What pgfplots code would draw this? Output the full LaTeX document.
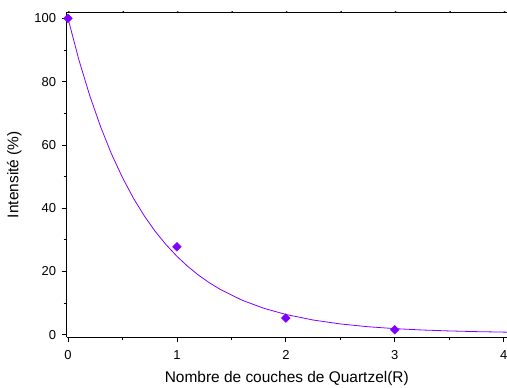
\documentclass[border=0pt]{standalone}
\usepackage{fontspec}
\setmainfont{Liberation Sans}
\usepackage{pgfplots}
\pgfplotsset{compat=1.18}
\usetikzlibrary{calc}
\definecolor{vio}{HTML}{8000FF}
\begin{document}
\begin{tikzpicture}
\begin{axis}[
  scale only axis,
  width=440bp, height=325bp,
  xmin=-0.013, xmax=4.03,
  ymin=-0.8, ymax=102,
  axis x line*=bottom,
  axis y line*=left,
  xtick={0,1,2,3,4},
  minor xtick={0.5,1.5,2.5,3.5},
  ytick={0,20,40,60,80,100},
  minor ytick={10,30,50,70,90},
  tick align=outside,
  major tick length=5bp,
  minor tick length=3bp,
  tick style={black, line width=0.8pt},
  axis line style={black, line width=1pt},
  /pgf/number format/assume math mode=true,
  ticklabel style={font=\fontsize{13}{15}\selectfont},
  xticklabel style={yshift=-5bp},
  yticklabel style={xshift=-2bp},
  xlabel={Nombre de couches de Quartzel(R)},
  ylabel={Intensité (\%)},
  label style={font=\fontsize{15.5}{18}\selectfont},
  xlabel style={yshift=-4.5bp},
  ylabel style={yshift=6bp},
  clip=false,
]
\addplot[vio, line width=0.8pt, no marks] coordinates {
(0,100) (0.1,86.9) (0.2,75.55) (0.3,65.7) (0.4,57.1) (0.5,49.7) (0.6,43.2)
(0.7,37.6) (0.8,32.7) (0.9,28.5) (1.0,24.8) (1.1,21.6) (1.2,18.8) (1.3,16.4) (1.4,14.3)
(1.6,10.9) (1.8,8.36) (2.0,6.43) (2.25,4.67) (2.5,3.43) (2.75,2.56)
(3.0,1.95) (3.25,1.52) (3.5,1.22) (3.75,1.00) (4.0,0.85) (4.03,0.83)
};
\addplot[only marks, mark=square*, mark size=3.1bp, mark options={rotate=45}, color=vio, fill=vio] coordinates {
(0,100) (1,27.8) (2,5.3) (3,1.6)
};
\draw[black, line width=1pt] (rel axis cs:0,1) -- (rel axis cs:1,1);
\pgfplotsinvokeforeach{0,0.5,1,1.5,2,2.5,3,3.5,4}{
  \draw[black, line width=0.8pt] (#1,102) -- ++(0,-2bp);
}
\end{axis}
\pgfresetboundingbox
\path[use as bounding box] ($(current axis.south west)+(-66.5bp,-50bp)$) rectangle ($(current axis.north east)+(0,12bp)$);
\end{tikzpicture}
\end{document}
